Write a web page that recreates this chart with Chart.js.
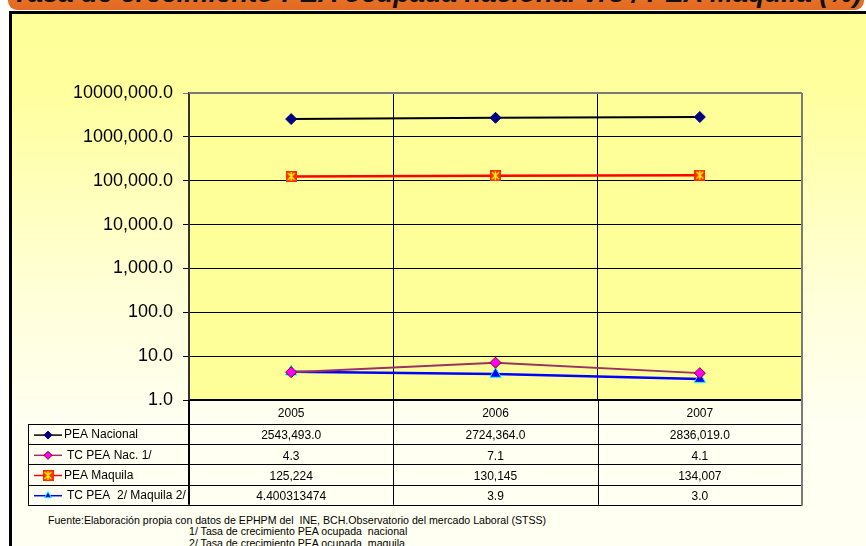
<!DOCTYPE html>
<html>
<head>
<meta charset="utf-8">
<script src="https://cdn.jsdelivr.net/npm/chart.js@4.4.1/dist/chart.umd.min.js"></script>
<style>
  html, body { margin: 0; padding: 0; width: 866px; height: 546px; overflow: hidden; background: #fff;
    font-family: "Liberation Sans", Arial, sans-serif; }
  #banner { position: absolute; left: 8px; top: -40px; width: 856px; height: 50px; overflow: hidden;
    background: linear-gradient(#f28b45, #e2691f); border-radius: 0 0 9px 9px; }
  #title { position: absolute; left: 4px; white-space: nowrap; font-weight: bold; font-style: italic; color: #111; }
  #panel { position: absolute; left: 9px; top: 11px; width: 900px; height: 600px;
    border-left: 3px solid #000; border-top: 3px solid #000;
    background: linear-gradient(to bottom, #ffff99 0px, #ffff9c 70px, #ffffd8 280px, #fffff2 410px); }
  #wrap { position: absolute; left: 0; top: 0; width: 866px; height: 546px; }
  .note { position: absolute; white-space: nowrap; font-size: 10.6px; line-height: 12px; color: #000; }
</style>
</head>
<body>
<div id="banner"><span id="title">Tasa de crecimiento PEA ocupada nacional vrs / PEA Maquila (%)</span></div>
<div id="panel"></div>
<div class="note" style="left:48px;top:514px">Fuente:Elaboración propia con datos de EPHPM del&nbsp; INE, BCH.Observatorio del mercado Laboral (STSS)</div>
<div class="note" style="left:189px;top:525px">1/ Tasa de crecimiento PEA ocupada&nbsp; nacional</div>
<div class="note" style="left:189px;top:537px">2/ Tasa de crecimiento PEA ocupada&nbsp; maquila</div>
<div id="wrap"><canvas id="c" width="866" height="546"></canvas></div>
<script>
const years = ['2005', '2006', '2007'];
const seriesNames = ['PEA Nacional', 'TC PEA Nac. 1/', 'PEA Maquila', 'TC PEA  2/ Maquila 2/'];
const peaNacional = [2543493.0, 2724364.0, 2836019.0];
const tcPeaNac = [4.3, 7.1, 4.1];
const peaMaquila = [125224, 130145, 134007];
const tcPeaMaquila = [4.400313474, 3.9, 3.0];

/* Texto tal como aparece en la tabla de datos. */
const peaNacionalText = ['2543,493.0', '2724,364.0', '2836,019.0'];
const tcPeaNacText = ['4.3', '7.1', '4.1'];
const peaMaquilaText = ['125,224', '130,145', '134,007'];
const tcPeaMaquilaText = ['4.400313474', '3.9', '3.0'];

const yTickValues = [1, 10, 100, 1000, 10000, 100000, 1000000, 10000000];
const yTickLabels = ['1.0', '10.0', '100.0', '1,000.0', '10,000.0', '100,000.0', '1000,000.0', '10000,000.0'];

const FONT = '"Liberation Sans", Arial, sans-serif';

/* Título: ajusta el tamaño al ancho del banner (sólo se ve la parte inferior). */
(function fitTitle() {
  const t = document.getElementById('title');
  let fs = 22;
  t.style.fontSize = fs + 'px';
  fs = fs * 850 / t.getBoundingClientRect().width;
  t.style.fontSize = fs + 'px';
  t.style.lineHeight = fs + 'px';
  t.style.top = (40 + 2 - 0.85 * fs) + 'px';
})();

/* Marcador de PEA Maquila: cuadro rojo con asterisco amarillo. */
function maquilaMarker() {
  const c = document.createElement('canvas');
  c.width = 11; c.height = 11;
  const g = c.getContext('2d');
  g.fillStyle = '#ff2a00';
  g.fillRect(0, 0, 11, 11);
  g.strokeStyle = '#ffff00';
  g.lineWidth = 1.4;
  g.beginPath();
  g.moveTo(2, 2); g.lineTo(9, 9);
  g.moveTo(9, 2); g.lineTo(2, 9);
  g.moveTo(5.5, 1); g.lineTo(5.5, 10);
  g.stroke();
  return c;
}
const MAQ_MARK = maquilaMarker();

const tableText = [peaNacionalText, tcPeaNacText, peaMaquilaText, tcPeaMaquilaText];

const bgPlugin = {
  id: 'plotBg',
  beforeDraw(chart) {
    const { ctx, chartArea: a } = chart;
    ctx.save();
    ctx.fillStyle = '#ffff99';
    ctx.fillRect(a.left, a.top, a.right - a.left, a.bottom - a.top);
    ctx.restore();
  },
};

/* Tabla de datos bajo el eje X, alineada con las categorías. */
const tablePlugin = {
  id: 'dataTable',
  afterDraw(chart) {
    const { ctx, chartArea: a, scales } = chart;
    const x = scales.x;
    const half = (x.getPixelForValue(1) - x.getPixelForValue(0)) / 2;
    const cols = years.map((_, i) => x.getPixelForValue(i) - half);
    cols.push(a.right);
    const top = a.bottom + 24, rowH = 20.2, legL = 28;
    const bottom = top + rowH * seriesNames.length;

    ctx.save();
    ctx.lineWidth = 1;
    ctx.strokeStyle = '#000';
    // líneas horizontales
    for (let r = 0; r <= seriesNames.length; r++) {
      const y = Math.round(top + r * rowH) + 0.5;
      ctx.beginPath(); ctx.moveTo(legL, y); ctx.lineTo(a.right, y); ctx.stroke();
    }
    // verticales
    ctx.beginPath(); ctx.moveTo(legL + 0.5, top); ctx.lineTo(legL + 0.5, bottom); ctx.stroke();
    for (let i = 1; i < cols.length - 1; i++) {
      const cx = Math.round(cols[i]) + 0.5;
      ctx.beginPath(); ctx.moveTo(cx, a.bottom); ctx.lineTo(cx, bottom); ctx.stroke();
    }
    ctx.lineWidth = 2;
    ctx.beginPath(); ctx.moveTo(cols[0], a.bottom); ctx.lineTo(cols[0], bottom); ctx.stroke();
    ctx.strokeStyle = '#7a7a7a';
    ctx.beginPath(); ctx.moveTo(a.right, a.top); ctx.lineTo(a.right, bottom + 1); ctx.stroke();
    ctx.beginPath(); ctx.moveTo(a.left, a.top); ctx.lineTo(a.right, a.top); ctx.stroke();

    // celdas
    ctx.fillStyle = '#000';
    ctx.textBaseline = 'middle';
    chart.data.datasets.forEach((ds, r) => {
      const cy = top + r * rowH + rowH / 2 + 1;
      ctx.lineWidth = 1.5;
      ctx.strokeStyle = ds.borderColor;
      ctx.beginPath(); ctx.moveTo(34, cy); ctx.lineTo(62, cy); ctx.stroke();
      ctx.lineWidth = 1;
      ctx.fillStyle = ds.pointBackgroundColor;
      ctx.strokeStyle = ds.pointBorderColor;
      Chart.helpers.drawPoint(ctx, { pointStyle: ds.pointStyle, radius: 4, rotation: 0, borderWidth: 1 }, 48, cy);
      ctx.fillStyle = '#000';
      ctx.font = '12px ' + FONT;
      ctx.textAlign = 'left';
      ctx.fillText(seriesNames[r], r === 1 || r === 3 ? 67 : 64, cy);
      ctx.textAlign = 'center';
      tableText[r].forEach((t, i) => ctx.fillText(t, (cols[i] + cols[i + 1]) / 2, cy + 1));
    });
    ctx.restore();
  },
};

new Chart(document.getElementById('c'), {
  type: 'line',
  plugins: [bgPlugin, tablePlugin],
  data: {
    labels: years,
    datasets: [
      { label: seriesNames[0], data: peaNacional, borderColor: '#000000', borderWidth: 2,
        pointStyle: 'rectRot', pointRadius: 5.5, pointBackgroundColor: '#000080', pointBorderColor: '#000080', pointBorderWidth: 1 },
      { label: seriesNames[1], data: tcPeaNac, borderColor: '#993366', borderWidth: 2,
        pointStyle: 'rectRot', pointRadius: 5.5, pointBackgroundColor: '#ff00ff', pointBorderColor: '#800000', pointBorderWidth: 1 },
      { label: seriesNames[2], data: peaMaquila, borderColor: '#ff0000', borderWidth: 2.5,
        pointStyle: MAQ_MARK, pointRadius: 5.5, pointBackgroundColor: '#ff2a00', pointBorderColor: '#ffff00' },
      { label: seriesNames[3], data: tcPeaMaquila, borderColor: '#0000ff', borderWidth: 2.5,
        pointStyle: 'triangle', pointRadius: 6.5, pointBackgroundColor: '#0000ff', pointBorderColor: '#00ffff', pointBorderWidth: 1 },
    ],
  },
  options: {
    responsive: false,
    animation: false,
    layout: { padding: { left: 0, top: 93, right: 64, bottom: 0 } },
    plugins: { legend: { display: false }, tooltip: { enabled: false } },
    scales: {
      x: {
        type: 'category',
        offset: true,
        afterFit: s => { s.height = 146; },
        grid: { offset: true, drawTicks: false, lineWidth: 1,
          color: c => (c.index === 1 || c.index === 2) ? '#000' : 'rgba(0,0,0,0)' },
        border: { color: '#000', width: 2 },
        ticks: { padding: 6, color: '#000', font: { family: FONT, size: 12 } },
      },
      y: {
        type: 'logarithmic',
        min: 1, max: 10000000,
        afterFit: s => { s.width = 189; },
        afterBuildTicks: s => { s.ticks = yTickValues.map(v => ({ value: v })); },
        grid: { color: c => c.tick && c.tick.value === 10000000 ? '#7a7a7a' : '#000', tickLength: 6, lineWidth: 1 },
        border: { color: '#333', width: 2 },
        ticks: {
          padding: 10, color: '#000', font: { family: FONT, size: 18 },
          callback: v => yTickLabels[yTickValues.indexOf(v)],
        },
      },
    },
  },
});
</script>
</body>
</html>
